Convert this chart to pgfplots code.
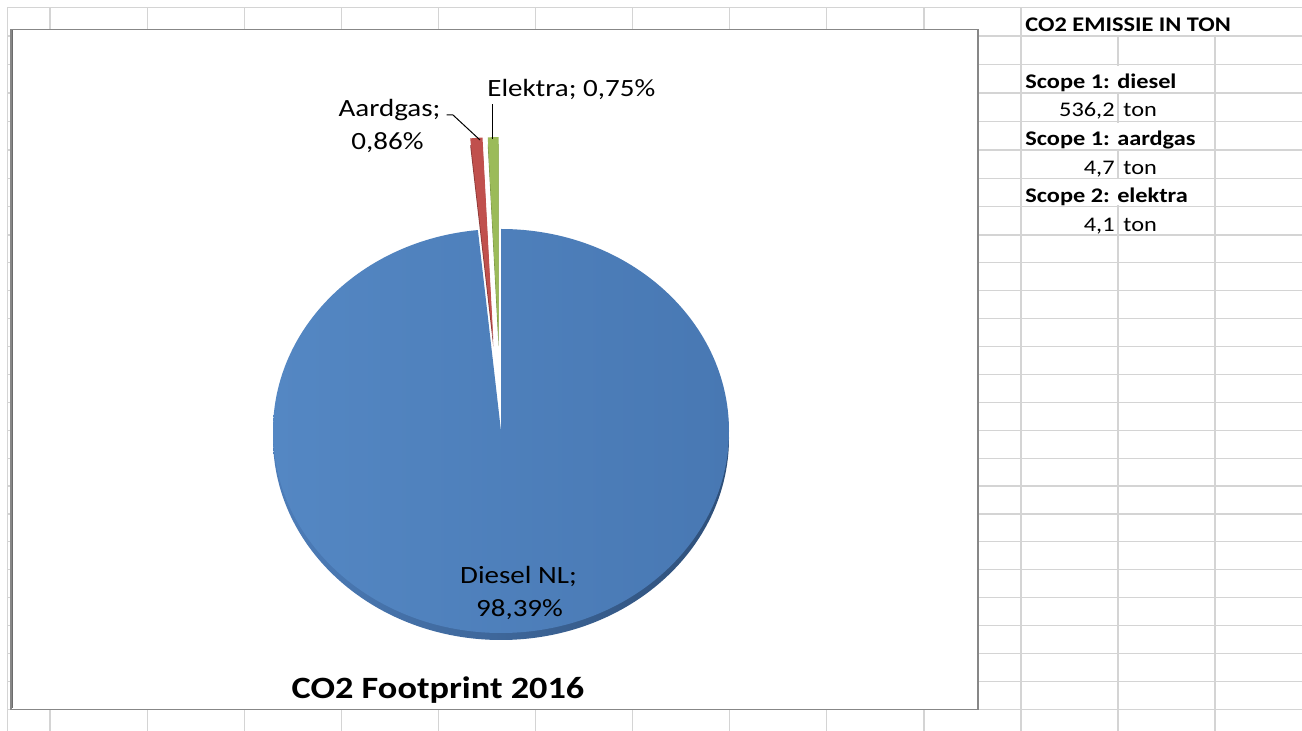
\documentclass[border=0pt]{standalone}
\usepackage{pgfplots}
\pgfplotsset{compat=1.18}
\usepackage{pgfplotstable}
\usepackage{fontspec}
\setmainfont{Carlito}[FakeStretch=1.17]

\definecolor{dieselleft}{HTML}{5487C3}
\definecolor{dieselright}{HTML}{4878B3}
\definecolor{dieselrim}{HTML}{2E4F79}
\definecolor{rimlight}{HTML}{4D7DB9}
\definecolor{gasred}{HTML}{C0504D}
\definecolor{gasrim}{HTML}{8C3836}
\definecolor{elekgreen}{HTML}{9BBB59}
\definecolor{elekrim}{HTML}{71893F}
\definecolor{cellline}{HTML}{D4D4D4}
\definecolor{framegray}{HTML}{878787}

% CO2 emissie in ton, 2016
\pgfplotstableread{
name     value
Diesel   536.2
Aardgas  4.7
Elektra  4.1
}\footprint

\newcommand\lbl{\fontsize{12.4}{16.5}\selectfont}
\newcommand\celltext{\fontsize{10.4}{12}\selectfont}

\begin{document}
\begin{tikzpicture}
\pgfplotstablegetelem{0}{value}\of\footprint \let\vD\pgfplotsretval
\pgfplotstablegetelem{1}{value}\of\footprint \let\vA\pgfplotsretval
\pgfplotstablegetelem{2}{value}\of\footprint \let\vE\pgfplotsretval
\pgfmathsetmacro\tot{\vD+\vA+\vE}
% slice ends as tikz angles; excel starts at 12 o'clock and turns clockwise
\pgfmathsetmacro\tD{90-360*(\vD/\tot)}
\pgfmathsetmacro\tA{\tD-360*(\vA/\tot)}
\pgfmathsetmacro\tE{\tA-360*(\vE/\tot)}
\pgfmathsetmacro\mA{(\tD+\tA)/2}
\pgfmathsetmacro\mE{(\tA+\tE)/2}
% pie radii 114pt x 101pt, side wall 3.5pt, small slices pulled out by 0.455 r
\pgfmathsetlengthmacro\ex{0.455*114pt}
\pgfmathsetlengthmacro\ey{0.455*101pt}

\begin{axis}[
    scale only axis, width=651pt, height=365.5pt,
    xmin=0, xmax=1302, ymin=0, ymax=731,
    y dir=reverse, hide axis, clip=false,
]
\coordinate (ll) at (axis cs:0,731);
\coordinate (ur) at (axis cs:1302,0);

% sheet grid
\pgfplotsinvokeforeach{7.3,50,147.1,244.2,341.3,438.4,535.5,632.6,729.7,826.8,923.9,1021,1118,1215}{
  \draw[cellline, line width=0.6pt] (axis cs:#1,7.3) -- (axis cs:#1,731);
}
\pgfplotsinvokeforeach{7.3,36,64.5,93,121.5,150,178.3,206.7,235,262.9,290.8,318.7,346.6,374.5,402.4,430.3,458.2,486.1,514,541.9,569.8,597.7,625.6,653.5,681.4,709.3}{
  \draw[cellline, line width=0.6pt] (axis cs:7.3,#1) -- (axis cs:1302,#1);
}
% text running over the next cell hides its border
\fill[white] (axis cs:1116,8.5) rectangle (axis cs:1120,34.8);
\fill[white] (axis cs:1213,8.5) rectangle (axis cs:1217,34.8);
\fill[white] (axis cs:1116,65.7) rectangle (axis cs:1120,91.8);
\fill[white] (axis cs:1116,122.7) rectangle (axis cs:1120,148.8);
\fill[white] (axis cs:1116,179.5) rectangle (axis cs:1120,205.5);

% chart area
\filldraw[fill=white, draw=framegray, line width=0.6pt] (axis cs:11,29.5) rectangle (axis cs:978,709.3);
\draw[framegray!80!black, line width=0.5pt] (axis cs:12,30.5) -- (axis cs:12,708.5);

% pie
\begin{scope}[shift={(axis cs:501,431)}]
  \shade[left color=rimlight, middle color=dieselrim, right color=dieselrim]
     (0,-3.5pt) -- ++(90:114pt and 101pt)
     arc[start angle=90, end angle=\tD, x radius=114pt, y radius=101pt] -- cycle;
  \shade[left color=dieselleft, right color=dieselright] (0,0) -- (90:114pt and 101pt)
     arc[start angle=90, end angle=\tD, x radius=114pt, y radius=101pt] -- cycle;
  \begin{scope}[shift={(\mA:{\ex} and {\ey})}]
    \fill[gasrim] (0,-3.5pt) -- ++(\tD:114pt and 101pt)
       arc[start angle=\tD, end angle=\tA, x radius=114pt, y radius=101pt] -- cycle;
    \fill[gasred] (0,0) -- (\tD:114pt and 101pt)
       arc[start angle=\tD, end angle=\tA, x radius=114pt, y radius=101pt] -- cycle;
  \end{scope}
  \begin{scope}[shift={(\mE:{\ex} and {\ey})}]
    \fill[elekrim] (0,-3.5pt) -- ++(\tA:114pt and 101pt)
       arc[start angle=\tA, end angle=\tE, x radius=114pt, y radius=101pt] -- cycle;
    \fill[elekgreen] (0,0) -- (\tA:114pt and 101pt)
       arc[start angle=\tA, end angle=\tE, x radius=114pt, y radius=101pt] -- cycle;
  \end{scope}
\end{scope}

% leader lines
\draw[black, line width=0.5pt] (axis cs:446.5,115) -- (axis cs:453,115) -- (axis cs:480,140);
\draw[black, line width=0.5pt] (axis cs:492,139) -- (axis cs:492,104);

% data labels
\node[anchor=base, inner sep=0] at (axis cs:389.5,116.7) {\lbl Aardgas;};
\node[anchor=base, inner sep=0] at (axis cs:387.5,150) {\lbl 0,86\%};
\node[anchor=base west, inner sep=0] at (axis cs:487,96.7) {\lbl Elektra; 0,75\%};
\node[anchor=base, inner sep=0] at (axis cs:518.5,584) {\lbl Diesel NL;};
\node[anchor=base, inner sep=0] at (axis cs:519.5,616.7) {\lbl 98,39\%};

% title
\node[anchor=base, inner sep=0] at (axis cs:438,699) {\fontsize{15.5}{18}\selectfont\bfseries CO2 Footprint 2016};

% table beside the chart
\node[anchor=base west, inner sep=0] at (axis cs:1025,31.7) {\celltext\bfseries CO2 EMISSIE IN TON};
\node[anchor=base west, inner sep=0] at (axis cs:1025,88.3) {\celltext\bfseries Scope 1: diesel};
\node[anchor=base east, inner sep=0] at (axis cs:1115,116.7) {\celltext 536,2};
\node[anchor=base west, inner sep=0] at (axis cs:1123,116.7) {\celltext ton};
\node[anchor=base west, inner sep=0] at (axis cs:1025,145.7) {\celltext\bfseries Scope 1: aardgas};
\node[anchor=base east, inner sep=0] at (axis cs:1115,175) {\celltext 4,7};
\node[anchor=base west, inner sep=0] at (axis cs:1123,175) {\celltext ton};
\node[anchor=base west, inner sep=0] at (axis cs:1025,202.7) {\celltext\bfseries Scope 2: elektra};
\node[anchor=base east, inner sep=0] at (axis cs:1115,231.7) {\celltext 4,1};
\node[anchor=base west, inner sep=0] at (axis cs:1123,231.7) {\celltext ton};
\end{axis}
\pgfresetboundingbox
\path (ll) rectangle (ur);
\end{tikzpicture}
\end{document}
